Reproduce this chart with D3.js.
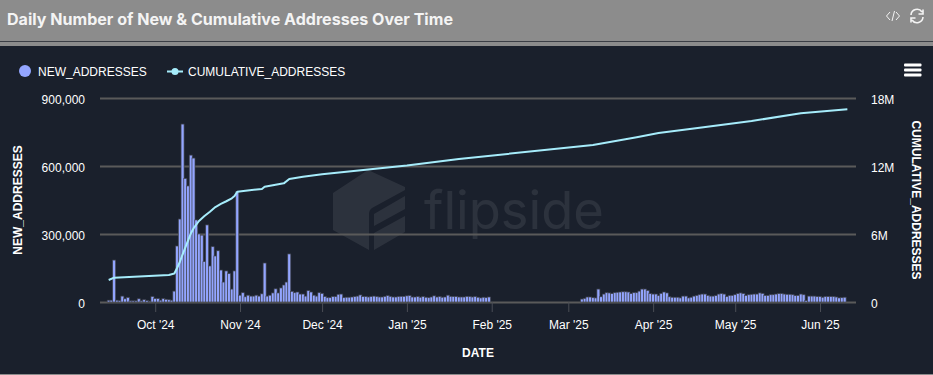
<!DOCTYPE html>
<meta charset="utf-8" />
<style>
  html, body { margin: 0; padding: 0; background: #1a202c; }
  text { font-family: "Liberation Sans", Arial, sans-serif; }
</style>
<script src="https://d3js.org/d3.v7.min.js"></script>
<div id="my_dataviz"></div>
<script>
  // daily new addresses, first value is 2024-09-14, null = no bar
  const firstDay = "2024-09-14";
  const newAddresses = [
    8000, 8000, 185000, 8000, 6000, 26000, 14000, 20000, 5000, 5000, 5000, 14000, 5000, 10000, 6000, 4000, 24000,
    15000, 15000, 8000, 15000, 12000, 10000, 8000, 48000, 247000, 366000, 785000, 545000, 512000, 648000, 635000,
    362000, 300000, 295000, 178000, 340000, 159000, 244000, 203000, 226000, 141000, 88000, 137000, 125000, 57000,
    137000, 487000, 30000, 41000, 23000, 30000, 26000, 26000, 30000, 26000, 36000, 172000, 26000, 30000, 40000,
    58000, 40000, 62000, 75000, 88000, 212000, 47000, 41000, 44000, 35000, 35000, 26000, 50000, 44000, 30000,
    26000, 41000, 38000, 24000, 19000, 19000, 24000, 24000, 34000, 35000, 19000, 21000, 21000, 22000, 24000,
    26000, 31000, 24000, 24000, 22000, 24000, 26000, 24000, 22000, 22000, 25000, 28000, 25000, 22000, 22000,
    24000, 25000, 25000, 27000, 28000, 22000, 22000, 24000, 21000, 24000, 21000, 19000, 22000, 27000, 22000,
    24000, 21000, 22000, 30000, 25000, 24000, 24000, 22000, 22000, 22000, 25000, 24000, 22000, 24000, 21000,
    18000, 21000, 19000, 22000,
    null, null, null, null, null, null, null, null, null, null, null, null, null, null, null, null, null,
    null, null, null, null, null, null, null, null, null, null, null, null, null, null, null, null,
    13000, 16000, 22000, 22000, 19000, 18000, 57000, 23000, 35000, 41000, 40000, 37000, 41000, 43000, 44000,
    45000, 45000, 44000, 37000, 41000, 41000, 48000, 57000, 57000, 51000, 37000, 35000, 35000, 28000, 38000,
    44000, 40000, 23000, 21000, 21000, 21000, 18000, 26000, 26000, 18000, 21000, 26000, 29000, 32000, 35000,
    35000, 29000, 26000, 26000, 28000, 35000, 37000, 35000, 24000, 29000, 29000, 32000, 37000, 40000, 37000,
    29000, 32000, 34000, 35000, 35000, 40000, 38000, 29000, 29000, 32000, 32000, 35000, 37000, 37000, 35000,
    34000, 34000, 32000, 28000, 29000, 35000, 32000, 6000, 26000, 26000, 26000, 24000, 24000, 21000, 24000,
    24000, 24000, 24000, 22000, 18000, 19000, 21000
  ];
  // cumulative line, read at these dates
  const cumDates = [
    "2024-09-14", "2024-09-16", "2024-10-06", "2024-10-08", "2024-10-09", "2024-10-10", "2024-10-11", "2024-10-12",
    "2024-10-13", "2024-10-14", "2024-10-15", "2024-10-17", "2024-10-19", "2024-10-21", "2024-10-23", "2024-10-25",
    "2024-10-27", "2024-10-29", "2024-10-30", "2024-10-31", "2024-11-03", "2024-11-09", "2024-11-10", "2024-11-17",
    "2024-11-19", "2024-11-24", "2024-12-01", "2025-01-01", "2025-01-20", "2025-03-10", "2025-03-26", "2025-04-03",
    "2025-04-18", "2025-05-07", "2025-05-25", "2025-06-11"
  ];
  const cumValues = [
    1940000, 2150000, 2380000, 2520000, 3000000, 3530000, 4190000, 4790000, 5410000, 6040000, 6490000, 7150000,
    7590000, 7970000, 8380000, 8650000, 8890000, 9150000, 9350000, 9730000, 9820000, 9970000, 10170000, 10470000,
    10850000, 11060000, 11270000, 12040000, 12620000, 13850000, 14530000, 14910000, 15380000, 15970000, 16650000,
    17000000
  ];
  const monthTicks = [
    "2024-10-01", "2024-11-01", "2024-12-01", "2025-01-01", "2025-02-01", "2025-03-01", "2025-04-01", "2025-05-01",
    "2025-06-01"
  ];
  const leftTicks = [0, 300000, 600000, 900000];
  const rightTicks = [0, 6000000, 12000000, 18000000];

  const width = 933,
    height = 375;

  const parseDay = d3.utcParse("%Y-%m-%d");
  const dayMs = 86400000;

  var svg = d3
    .select("#my_dataviz")
    .append("svg")
    .attr("width", width)
    .attr("height", height)
    .style("display", "block");

  // header strip
  svg.append("rect").attr("width", width).attr("height", 46).attr("fill", "#8c8c8c");
  svg.append("rect").attr("y", 41).attr("width", width).attr("height", 1).attr("fill", "#3c3f46");
  svg.append("rect").attr("y", 374).attr("width", width).attr("height", 1).attr("fill", "#8c8c8c");
  svg
    .append("text")
    .attr("x", 7)
    .attr("y", 25)
    .style("font-family", "Inter")
    .style("font-size", "16.07px")
    .style("font-weight", 700)
    .style("fill", "#f4f4f4")
    .text("Daily Number of New & Cumulative Addresses Over Time");

  // watermark
  var mark = svg.append("g").attr("fill", "#ffffff").attr("opacity", 0.08);
  mark.append("path").attr("d", "M333 193 L368 170 L405 187 L405 190 L372 208 Q369 210 369 214 L369 250 L333 230 Z");
  mark.append("path").attr("d", "M374 226 L374 214 L405 196 L405 209 Z");
  mark.append("path").attr("d", "M374 233 L405 216 L405 232 L374 250 Z");
  mark
    .append("text")
    .attr("x", 424)
    .attr("y", 229)
    .style("font-family", "Inter")
    .style("font-size", "52.4px")
    .style("font-weight", 400)
    .text("flipside");

  // pinned to the Oct and Jun ticks
  const x = d3
    .scaleUtc()
    .domain([parseDay("2024-10-01"), parseDay("2025-06-01")])
    .range([155.2, 820]);
  const yLeft = d3.scaleLinear().domain([0, 900000]).range([302, 98]);
  const yRight = d3.scaleLinear().domain([0, 18000000]).range([302, 98]);

  var plotW = 756;

  // gridlines + y axes
  var leftAxis = svg
    .append("g")
    .attr("transform", "translate(100,0)")
    .call(d3.axisLeft(yLeft).tickValues(leftTicks).tickSize(-plotW).tickPadding(15).tickFormat(d3.format(",")));
  leftAxis.select(".domain").remove();
  leftAxis.selectAll(".tick line").attr("stroke", "#5a5a5a").attr("stroke-width", 2);
  leftAxis.selectAll("text").attr("dy", "0.42em").style("fill", "#ffffff").style("font-size", "12px");

  var rightAxis = svg
    .append("g")
    .attr("transform", "translate(856,0)")
    .call(
      d3
        .axisRight(yRight)
        .tickValues(rightTicks)
        .tickSize(0)
        .tickPadding(15)
        .tickFormat((d) => (d === 0 ? "0" : d / 1000000 + "M"))
    );
  rightAxis.select(".domain").remove();
  rightAxis.selectAll("text").attr("dy", "0.42em").style("fill", "#ffffff").style("font-size", "12px");

  // x axis
  var xAxis = svg
    .append("g")
    .attr("transform", "translate(0,302)")
    .call(
      d3
        .axisBottom(x)
        .tickValues(monthTicks.map(parseDay))
        .tickSize(10)
        .tickPadding(8)
        .tickFormat(d3.utcFormat("%b '%y"))
    );
  xAxis.select(".domain").remove();
  xAxis.selectAll(".tick line").attr("stroke", "#4a4d55");
  xAxis.selectAll("text").style("fill", "#ffffff").style("font-size", "12px");

  // bars
  var start = parseDay(firstDay).getTime();
  var barWidth = 3;
  svg
    .append("g")
    .selectAll("rect")
    .data(newAddresses.map((v, i) => ({ day: new Date(start + i * dayMs), v: v })).filter((d) => d.v !== null))
    .join("rect")
    .attr("x", (d) => x(d.day) - barWidth / 2)
    .attr("y", (d) => yLeft(d.v))
    .attr("width", barWidth)
    .attr("height", (d) => 302 - yLeft(d.v))
    .attr("fill", "#93a5ff")
    .attr("stroke", "#3f424a")
    .attr("stroke-width", 0.7);

  // cumulative line
  var cumData = cumDates.map((d, i) => ({ day: parseDay(d), v: cumValues[i] }));
  svg
    .append("path")
    .datum(cumData)
    .attr("fill", "none")
    .attr("stroke", "#a6ecfb")
    .attr("stroke-width", 2)
    .attr("stroke-linejoin", "round")
    .attr(
      "d",
      d3
        .line()
        .x((d) => x(d.day))
        .y((d) => yRight(d.v))
    );

  // axis titles
  svg
    .append("text")
    .attr("transform", "translate(22,200) rotate(-90)")
    .attr("text-anchor", "middle")
    .style("fill", "#ffffff")
    .style("font-size", "12px")
    .style("font-weight", 700)
    .text("NEW_ADDRESSES");
  svg
    .append("text")
    .attr("transform", "translate(912,200) rotate(90)")
    .attr("text-anchor", "middle")
    .style("fill", "#ffffff")
    .style("font-size", "12px")
    .style("font-weight", 700)
    .text("CUMULATIVE_ADDRESSES");
  svg
    .append("text")
    .attr("x", 478)
    .attr("y", 357)
    .attr("text-anchor", "middle")
    .style("fill", "#ffffff")
    .style("font-size", "12px")
    .style("font-weight", 700)
    .text("DATE");

  // legend
  svg.append("circle").attr("cx", 25).attr("cy", 71).attr("r", 6).attr("fill", "#93a5ff");
  svg.append("text").attr("x", 38).attr("y", 76).style("fill", "#ffffff").style("font-size", "12px").text("NEW_ADDRESSES");
  svg.append("line").attr("x1", 167).attr("x2", 183).attr("y1", 71.5).attr("y2", 71.5).attr("stroke", "#a6ecfb").attr("stroke-width", 2);
  svg.append("circle").attr("cx", 175).attr("cy", 71.5).attr("r", 3.5).attr("fill", "#a6ecfb");
  svg.append("text").attr("x", 188).attr("y", 76).style("fill", "#ffffff").style("font-size", "12px").text("CUMULATIVE_ADDRESSES");

  // hamburger + header icons
  [65, 70, 75].forEach(function (yy) {
    svg.append("rect").attr("x", 904).attr("y", yy - 1.5).attr("width", 17.5).attr("height", 3).attr("rx", 1).attr("fill", "#ffffff");
  });
  var icon = svg.append("g").attr("fill", "none").attr("stroke", "#f4f4f4");
  icon
    .append("path")
    .attr("stroke-width", 1)
    .attr("d", "M890 12 L886.5 16 L890 20 M894.5 11 L892 21 M896 12 L899.5 16 L896 20");
  icon
    .append("path")
    .attr("stroke-width", 1.6)
    .attr("d", "M911 15 A6 6 0 0 1 922 12 M923 17 A6 6 0 0 1 912 20 M923 9.5 L923 14 L918.5 14 M911 22.5 L911 18 L915.5 18");
</script>
